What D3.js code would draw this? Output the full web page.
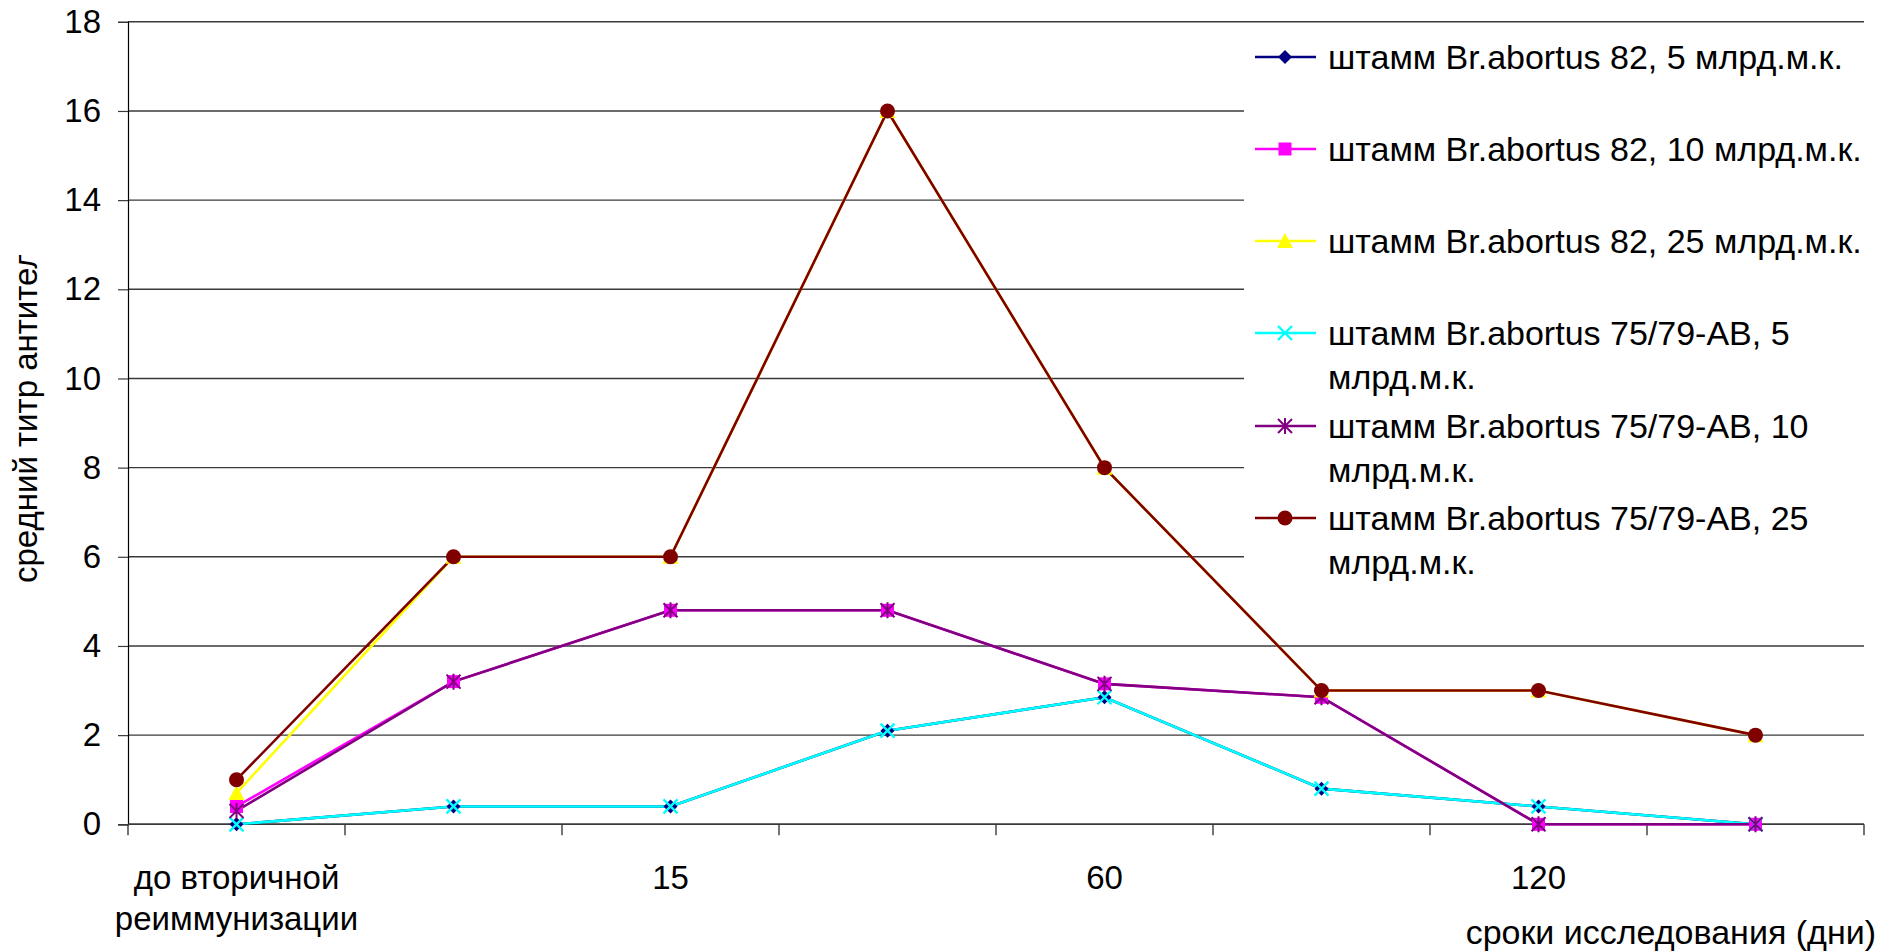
<!DOCTYPE html>
<html>
<head>
<meta charset="utf-8">
<script src="https://cdn.jsdelivr.net/npm/d3@7"></script>
<style>
  html, body { margin: 0; padding: 0; background: #fff; }
  svg { display: block; font-family: "Liberation Sans", Arial, sans-serif; }
</style>
</head>
<body>
<svg id="chart" width="1898" height="952"></svg>
<script>
// Time points of the study (only every other one carries a label on the axis)
const categories = ["до вторичной реиммунизации", "7", "15", "30", "60", "90", "120", "180"];
const tickLabels = [["до вторичной", "реиммунизации"], [], ["15"], [], ["60"], [], ["120"], []];
const yTicks = [0, 2, 4, 6, 8, 10, 12, 14, 16, 18];

// Mean antibody titre per group
const s82_5   = [0,   0.4, 0.4, 2.1, 2.85, 0.8, 0.4, 0];
const s82_10  = [0.4, 3.2, 4.8, 4.8, 3.15, 2.85, 0, 0];
const s82_25  = [0.7, 6,   6,   16,  8,    3,   3,   2];
const s75_5   = [0,   0.4, 0.4, 2.1, 2.85, 0.8, 0.4, 0];
const s75_10  = [0.3, 3.2, 4.8, 4.8, 3.15, 2.85, 0, 0];
const s75_25  = [1,   6,   6,   16,  8,    3,   3,   2];

const seriesNames = [
  ["штамм Br.abortus 82, 5 млрд.м.к."],
  ["штамм Br.abortus 82, 10 млрд.м.к."],
  ["штамм Br.abortus 82, 25 млрд.м.к."],
  ["штамм Br.abortus 75/79-AB, 5", "млрд.м.к."],
  ["штамм Br.abortus 75/79-AB, 10", "млрд.м.к."],
  ["штамм Br.abortus 75/79-AB, 25", "млрд.м.к."]
];
const seriesValues = [s82_5, s82_10, s82_25, s75_5, s75_10, s75_25];
const seriesColors = ["#000080", "#ff00ff", "#ffff00", "#00ffff", "#800080", "#800000"];
const seriesMarkers = ["diamond", "square", "triangle", "cross", "asterisk", "circle"];

const series = seriesNames.map((name, i) => ({
  name, values: seriesValues[i], color: seriesColors[i], marker: seriesMarkers[i]
}));

const svg = d3.select("#chart");
const plotLeft = 128, plotRight = 1864, plotTop = 21.8, plotBottom = 824.3;

const x = d3.scaleBand().domain(categories).range([plotLeft, plotRight]).padding(0);
const y = d3.scaleLinear().domain([0, 18]).range([plotBottom, plotTop]);
const cx = c => x(c) + x.bandwidth() / 2;

// Horizontal gridlines
svg.append("g")
  .selectAll("line").data(yTicks).join("line")
  .attr("x1", plotLeft).attr("x2", plotRight)
  .attr("y1", d => y(d)).attr("y2", d => y(d))
  .attr("stroke", "#3a3a3a").attr("stroke-width", 1.4);

// Y axis
const yAxis = svg.append("g").attr("transform", `translate(${plotLeft},0)`)
  .call(d3.axisLeft(y).tickValues(yTicks).tickSize(10).tickPadding(17));
yAxis.select(".domain").attr("stroke", "#000").attr("stroke-width", 1.2);
yAxis.selectAll(".tick line").attr("stroke", "#3a3a3a").attr("stroke-width", 1.2);
yAxis.selectAll(".tick text")
  .attr("font-size", 33).attr("fill", "#000")
  .attr("font-family", "Liberation Sans, Arial, sans-serif");

// X axis: ticks at category boundaries
const edges = categories.map(c => x(c)).concat([plotRight]);
const xg = svg.append("g");
xg.append("line").attr("x1", plotLeft).attr("x2", plotRight)
  .attr("y1", plotBottom).attr("y2", plotBottom)
  .attr("stroke", "#3a3a3a").attr("stroke-width", 1.4);
xg.selectAll("line.tick").data(edges).join("line").attr("class", "tick")
  .attr("x1", d => d).attr("x2", d => d)
  .attr("y1", plotBottom).attr("y2", plotBottom + 11)
  .attr("stroke", "#3a3a3a").attr("stroke-width", 1.4);
xg.selectAll("text.cat").data(categories).join("text").attr("class", "cat")
  .attr("x", d => cx(d)).attr("y", 889)
  .attr("text-anchor", "middle").attr("font-size", 33)
  .each(function(d, i) {
    d3.select(this).selectAll("tspan").data(tickLabels[i]).join("tspan")
      .attr("x", cx(d)).attr("dy", (t, j) => j === 0 ? 0 : 41)
      .text(t => t);
  });

// Axis titles
svg.append("text")
  .attr("x", 1876).attr("y", 944)
  .attr("text-anchor", "end").attr("font-size", 34)
  .text("сроки исследования (дни)");

svg.append("clipPath").attr("id", "ytitle-clip")
  .append("rect").attr("x", 0).attr("y", 255).attr("width", 100).attr("height", 700);
svg.append("g").attr("clip-path", "url(#ytitle-clip)")
  .append("text")
  .attr("transform", "translate(37,583) rotate(-90)")
  .attr("font-size", 33)
  .text("средний титр антител");

// Marker shapes
function drawMarker(g, type, color, px, py) {
  if (type === "diamond") {
    const sz = 7;
    g.append("path").attr("d", `M${px},${py - sz}L${px + sz},${py}L${px},${py + sz}L${px - sz},${py}Z`)
      .attr("fill", color);
  } else if (type === "square") {
    g.append("rect").attr("x", px - 6.5).attr("y", py - 6.5).attr("width", 13).attr("height", 13)
      .attr("fill", color);
  } else if (type === "triangle") {
    g.append("path").attr("d", `M${px},${py - 8}L${px + 8},${py + 7}L${px - 8},${py + 7}Z`)
      .attr("fill", color);
  } else if (type === "cross") {
    g.append("path").attr("d", `M${px - 7},${py - 7}L${px + 7},${py + 7}M${px + 7},${py - 7}L${px - 7},${py + 7}`)
      .attr("stroke", color).attr("stroke-width", 2.4).attr("fill", "none");
  } else if (type === "asterisk") {
    g.append("path").attr("d", `M${px - 7},${py - 7}L${px + 7},${py + 7}M${px + 7},${py - 7}L${px - 7},${py + 7}M${px},${py - 8}L${px},${py + 8}`)
      .attr("stroke", color).attr("stroke-width", 2).attr("fill", "none");
  } else if (type === "circle") {
    g.append("circle").attr("cx", px).attr("cy", py).attr("r", 7.5).attr("fill", color);
  }
}

const line = d3.line().x((d, i) => cx(categories[i])).y(d => y(d));

// Series lines
const linesG = svg.append("g");
series.forEach(s => {
  linesG.append("path").datum(s.values)
    .attr("d", line).attr("fill", "none")
    .attr("stroke", s.color).attr("stroke-width", 2.6)
    .attr("stroke-linejoin", "miter");
});

// Series markers
const markersG = svg.append("g");
series.forEach(s => {
  s.values.forEach((v, i) => drawMarker(markersG, s.marker, s.color, cx(categories[i]), y(v)));
});

// Legend
const legend = svg.append("g");
legend.append("rect").attr("x", 1244).attr("y", 30).attr("width", 640).attr("height", 562)
  .attr("fill", "#fff");
const legendY = [57, 149, 241, 333, 426, 518];
series.forEach((s, i) => {
  const ly = legendY[i];
  legend.append("line").attr("x1", 1255).attr("x2", 1316).attr("y1", ly).attr("y2", ly)
    .attr("stroke", s.color).attr("stroke-width", 2.4);
  drawMarker(legend, s.marker, s.color, 1285, ly);
  const t = legend.append("text").attr("x", 1328).attr("y", ly + 12).attr("font-size", 34);
  t.selectAll("tspan").data(s.name).join("tspan")
    .attr("x", 1328).attr("dy", (d, j) => j === 0 ? 0 : 43.5)
    .text(d => d);
});
</script>
</body>
</html>
